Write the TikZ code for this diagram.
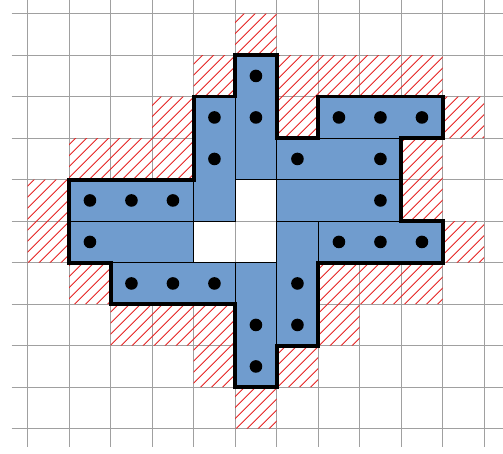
\documentclass[tikz,border=0pt]{standalone}
\usetikzlibrary{calc}
\definecolor{gridgray}{RGB}{160,160,160}
\definecolor{pieceblue}{RGB}{112,156,206}
\definecolor{hatchred}{RGB}{230,35,35}
\begin{document}
\begin{tikzpicture}[x=41.5pt,y=-41.5pt,
  gridline/.style={draw=gridgray,line width=1.2pt},
  hatchline/.style={draw=hatchred,line width=0.8pt},
  piece/.style={fill=pieceblue,draw=black,line width=1.2pt},
  outline/.style={draw=black,line width=3.6pt,line join=miter},
  dotmark/.style={fill=black}]
\useasboundingbox (-0.6675,-0.3301) rectangle (11.4530,10.6096);
% grid
\foreach \c in {0,...,11} \draw[gridline] (\c,-0.34) -- (\c,10.44);
\foreach \r in {0,...,10} \draw[gridline] (-0.386,\r) -- (11.46,\r);
% hatched cells
\begin{scope}
\clip
  \foreach \c/\r in {5/0, 4/1,6/1,7/1,8/1,9/1, 3/2,6/2,10/2, 1/3,2/3,3/3,9/3,
    0/4,9/4, 0/5,10/5, 1/6,7/6,8/6,9/6, 2/7,3/7,4/7,7/7, 4/8,6/8, 5/9}
  {(\c,\r) rectangle ++(1,1)};
\foreach \k in {0,...,86} {
  \pgfmathsetmacro\s{(11*\k-36.7)/41.5}
  \draw[hatchline] (\s+1,-1) -- (-1,\s+1);
}
\end{scope}
% pieces
\foreach \a/\b/\cc/\d in {4/2/5/5, 5/1/6/4, 7/2/10/3, 6/3/9/4, 6/4/9/5, 7/5/10/6,
  6/5/7/8, 5/6/6/9, 2/6/5/7, 1/4/4/5, 1/5/4/6}
  \draw[piece] (\a,\b) rectangle (\cc,\d);
% outer outline
\draw[outline] (5,1) -- (6,1) -- (6,3) -- (7,3) -- (7,2) -- (10,2) -- (10,3) -- (9,3)
  -- (9,5) -- (10,5) -- (10,6) -- (7,6) -- (7,8) -- (6,8) -- (6,9) -- (5,9) -- (5,7)
  -- (2,7) -- (2,6) -- (1,6) -- (1,4) -- (4,4) -- (4,2) -- (5,2) -- cycle;
% dots
\foreach \c/\r in {5/1,5/2, 4/2,4/3, 7/2,8/2,9/2, 6/3,8/3, 8/4, 7/5,8/5,9/5,
  6/6,6/7, 5/7,5/8, 2/6,3/6,4/6, 1/4,2/4,3/4, 1/5}
  \fill[dotmark] (\c+0.5,\r+0.5) circle (6.3pt);
\end{tikzpicture}
\end{document}
